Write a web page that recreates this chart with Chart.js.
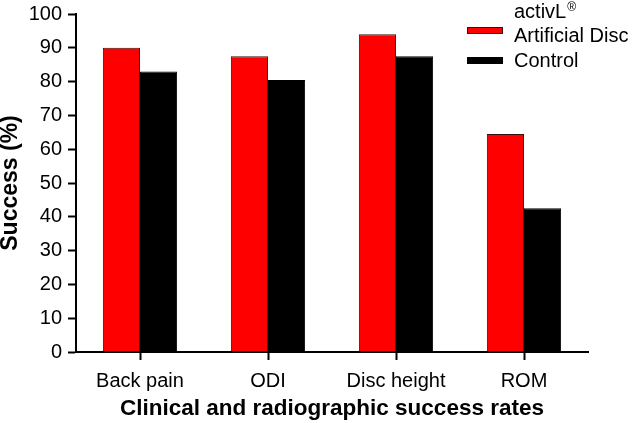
<!DOCTYPE html>
<html>
<head>
<meta charset="utf-8">
<script src="https://cdn.jsdelivr.net/npm/chart.js@4"></script>
<style>
  html, body { margin: 0; padding: 0; background: #fff; }
  #wrap { width: 632px; height: 423px; }
</style>
</head>
<body>
<div id="wrap"><canvas id="chart" width="632" height="423"></canvas></div>
<script>
var categories = ['Back pain', 'ODI', 'Disc height', 'ROM'];
var activlValues = [90, 87.5, 94, 64.5];
var controlValues = [83, 80.5, 87.5, 42.5];
var yTicks = [0, 10, 20, 30, 40, 50, 60, 70, 80, 90, 100];
var legendHeader = 'activL';
var seriesNames = ['Artificial Disc', 'Control'];

var FONT = '"Liberation Sans", Arial, sans-serif';

// legend drawn by hand, it sits inside the plot at top right
var legendPlugin = {
    id: 'cornerLegend',
    afterDraw: function(chart) {
        var ctx = chart.ctx;
        ctx.save();
        ctx.fillStyle = '#000';
        ctx.textBaseline = 'alphabetic';
        ctx.textAlign = 'left';
        ctx.font = '20px ' + FONT;
        ctx.fillText(legendHeader, 514, 18);
        var w = ctx.measureText(legendHeader).width;
        ctx.font = '12px ' + FONT;
        ctx.fillText('\u00AE', 514 + w + 1, 11);
        ctx.font = '20px ' + FONT;
        var rows = [{ box: 27, base: 42 }, { box: 57, base: 67 }];
        chart.data.datasets.forEach(function(ds, i) {
            var r = rows[i];
            ctx.fillStyle = ds.backgroundColor;
            ctx.fillRect(467, r.box, 36, 7);
            ctx.strokeStyle = ds.borderColor;
            ctx.lineWidth = 1;
            ctx.strokeRect(467.5, r.box + 0.5, 35, 6);
            ctx.fillStyle = '#000';
            ctx.fillText(ds.label, 514, r.base);
        });
        ctx.restore();
    }
};

var ctx = document.getElementById('chart').getContext('2d');
new Chart(ctx, {
    type: 'bar',
    data: {
        labels: categories,
        datasets: [{
            label: seriesNames[0],
            data: activlValues,
            backgroundColor: '#ff0000',
            borderColor: '#3a1010',
            borderWidth: 1
        }, {
            label: seriesNames[1],
            data: controlValues,
            backgroundColor: '#000000',
            borderColor: '#000000',
            borderWidth: 1
        }]
    },
    options: {
        responsive: false,
        animation: false,
        categoryPercentage: 0.58,
        barPercentage: 1.0,
        layout: { padding: { top: 14, right: 44, bottom: 0, left: 0 } },
        scales: {
            x: {
                grid: { drawOnChartArea: false, offset: false, tickLength: 8, tickWidth: 2, tickColor: '#000' },
                border: { display: true, color: '#000', width: 2 },
                ticks: { color: '#000', font: { family: FONT, size: 20 }, padding: 9, maxRotation: 0 },
                title: {
                    display: true,
                    text: 'Clinical and radiographic success rates',
                    color: '#000',
                    font: { family: FONT, size: 22.5, weight: 'bold' },
                    padding: { top: 0, bottom: 1 }
                },
                afterFit: function(scale) {
                    scale.height = 71;
                    scale.paddingLeft = 0;
                    scale.paddingRight = 0;
                }
            },
            y: {
                min: 0,
                max: 100,
                afterBuildTicks: function(scale) {
                    scale.ticks = yTicks.map(function(v) { return { value: v }; });
                },
                grid: { drawOnChartArea: false, tickLength: 8, tickWidth: 2, tickColor: '#000' },
                border: { display: true, color: '#000', width: 2 },
                ticks: { color: '#000', font: { family: FONT, size: 20 }, padding: 6 },
                title: {
                    display: true,
                    text: 'Success (%)',
                    color: '#000',
                    font: { family: FONT, size: 23, weight: 'bold', lineHeight: 0.9 },
                    padding: { top: 0, bottom: 0 }
                },
                afterFit: function(scale) {
                    scale.width = 76;
                    scale.paddingTop = 0;
                    scale.paddingBottom = 0;
                }
            }
        },
        plugins: {
            legend: { display: false },
            tooltip: { enabled: false }
        }
    },
    plugins: [legendPlugin]
});
</script>
</body>
</html>
